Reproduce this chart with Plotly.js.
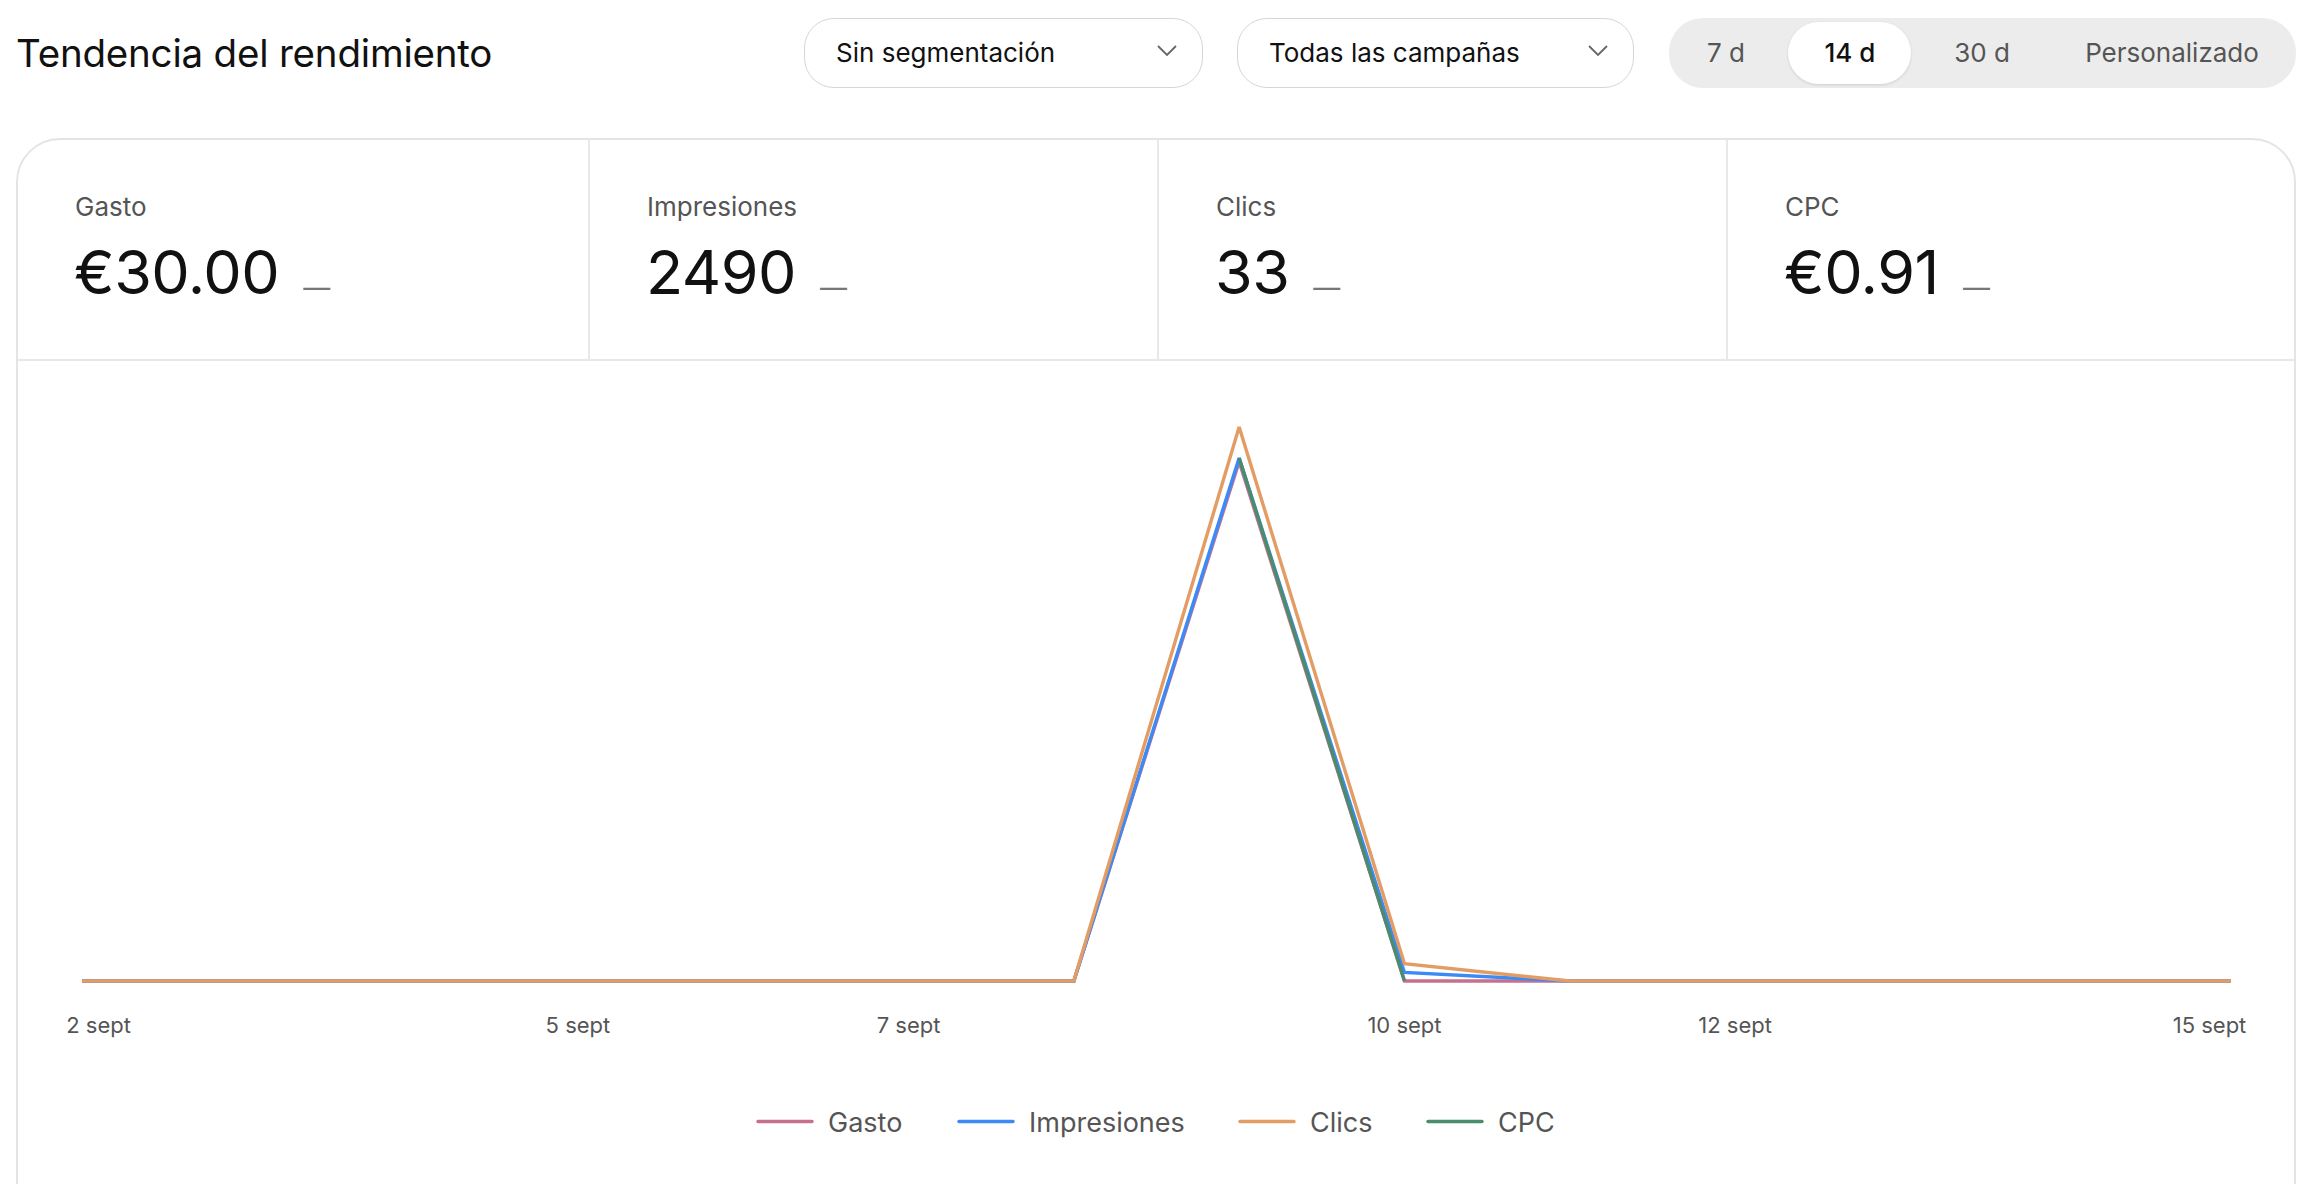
<!DOCTYPE html>
<html>
<head>
<meta charset="utf-8">
<script src="https://cdn.plot.ly/plotly-3.0.1.min.js"></script>
<style>
  html, body { margin:0; padding:0; background:#fff; }
  body { width:2300px; height:1184px; overflow:hidden; position:relative;
         font-family: Inter, "Noto Sans", sans-serif; color:#111; }
  .title { position:absolute; left:16px; top:30px; font-size:38.5px; line-height:46px; color:#111; letter-spacing:-0.2px; }
  .dd { position:absolute; top:18px; height:70px; box-sizing:border-box; border:1.5px solid #d6d6d6;
        border-radius:30px; background:#fff; font-size:26px; color:#111; }
  .dd span { position:absolute; left:31px; top:0; line-height:67px; }
  .dd svg { position:absolute; right:24px; top:25px; }
  .seg { position:absolute; left:1669px; top:18px; width:627px; height:70px; background:#ececec; border-radius:34px; }
  .seg .pill { position:absolute; left:119px; top:4px; width:123px; height:62px; background:#fff; border-radius:31px;
               box-shadow:0 1px 3px rgba(0,0,0,0.12); }
  .seg .opt { position:absolute; top:0; line-height:70px; font-size:26px; color:#555; transform:translateX(-50%); white-space:nowrap; }
  .seg .opt.sel { color:#111; font-weight:500; }
  .card { position:absolute; left:16px; top:138px; width:2280px; height:1110px; box-sizing:border-box;
          border:2px solid #e4e4e4; border-radius:44px; background:#fff; }
  .hline { position:absolute; left:17px; width:2278px; top:359px; height:2px; background:#e8e8e8; }
  .vline { position:absolute; top:139px; height:221px; width:2px; background:#e8e8e8; }
  .mlabel { position:absolute; font-size:26px; line-height:30px; color:#555; }
  .mval { position:absolute; font-size:61px; line-height:70px; color:#111; white-space:nowrap; letter-spacing:-0.5px; }
  .mval .dash { font-size:27px; color:#777; margin-left:24px; vertical-align:-3px; }
  #chart { position:absolute; left:0; top:362px; width:2300px; height:822px; }
</style>
</head>
<body>
<div class="title" id="title"></div>
<div id="dropdowns"></div>
<div class="seg" id="seg"><div class="pill"></div></div>
<div class="card"></div>
<div class="hline"></div>
<div id="metrics"></div>
<div id="chart"></div>
<script>
// ---------- data ----------
const chartTitle = 'Tendencia del rendimiento';
const dropdownLabels = ['Sin segmentación', 'Todas las campañas'];
const rangeOptions = ['7 d', '14 d', '30 d', 'Personalizado'];
const selectedRange = '14 d';

const metricLabels = ['Gasto', 'Impresiones', 'Clics', 'CPC'];
const metricValues = ['€30.00', '2490', '33', '€0.91'];

const days = ['2 sept','3 sept','4 sept','5 sept','6 sept','7 sept','8 sept',
              '9 sept','10 sept','11 sept','12 sept','13 sept','14 sept','15 sept'];
const tickDays = ['2 sept','5 sept','7 sept','10 sept','12 sept','15 sept'];

const gasto       = [0,0,0,0,0,0,0,30,0,0,0,0,0,0];
const impresiones = [0,0,0,0,0,0,0,2450,40,0,0,0,0,0];
const clics       = [0,0,0,0,0,0,0,32,1,0,0,0,0,0];
// CPC only exists on days with clicks
const cpc         = [null,null,null,null,null,null,null,0.94,0,null,null,null,null,null];

// ---------- header UI ----------
document.getElementById('title').textContent = chartTitle;
const ddPos = [[804, 399], [1237, 397]];
const ddWrap = document.getElementById('dropdowns');
dropdownLabels.forEach((t, i) => {
  const d = document.createElement('div');
  d.className = 'dd';
  d.style.left = ddPos[i][0] + 'px';
  d.style.width = ddPos[i][1] + 'px';
  d.innerHTML = '<span></span><svg width="22" height="14" viewBox="0 0 22 14"><path d="M2 2 L11 11 L20 2" fill="none" stroke="#666" stroke-width="1.8"/></svg>';
  d.querySelector('span').textContent = t;
  ddWrap.appendChild(d);
});
const segCenters = [57, 181, 313, 503];
const seg = document.getElementById('seg');
rangeOptions.forEach((t, i) => {
  const o = document.createElement('div');
  o.className = 'opt' + (t === selectedRange ? ' sel' : '');
  o.style.left = segCenters[i] + 'px';
  o.textContent = t;
  seg.appendChild(o);
});

// ---------- metric row ----------
const cellLeft = [16, 588, 1157, 1726];
const mWrap = document.getElementById('metrics');
metricLabels.forEach((lab, i) => {
  if (i > 0) {
    const v = document.createElement('div');
    v.className = 'vline'; v.style.left = cellLeft[i] + 'px';
    mWrap.appendChild(v);
  }
  const l = document.createElement('div');
  l.className = 'mlabel'; l.style.left = (cellLeft[i] + 59) + 'px'; l.style.top = '192px';
  l.textContent = lab;
  mWrap.appendChild(l);
  const val = document.createElement('div');
  val.className = 'mval'; val.style.left = (cellLeft[i] + 58) + 'px'; val.style.top = '237px';
  val.textContent = metricValues[i];
  const dash = document.createElement('span');
  dash.className = 'dash'; dash.textContent = '—';
  val.appendChild(dash);
  mWrap.appendChild(val);
});

// ---------- chart ----------
const xIdx = days.map((d, i) => i);
const tickIdx = tickDays.map(d => days.indexOf(d));
// edge labels are pulled inward, as in the original
const tickPos = tickIdx.map((v, k) => k === 0 ? v + 0.1 : (k === tickIdx.length - 1 ? v - 0.13 : v));

const plotL = 82, plotW = 2149, plotH = 585, zeroPad = 4 / plotH;
function yRange(peak, peakFrac) {
  const span = peak / (peakFrac - zeroPad);
  const lo = -zeroPad * span;
  return [lo, lo + span];
}
const fracHigh = (985 - 427) / plotH;
const fracLow  = (985 - 458) / plotH;
const rClics = yRange(Math.max(...clics), fracHigh);
const rImp   = yRange(Math.max(...impresiones), fracLow);
const rCpc   = yRange(Math.max(...cpc.filter(v => v !== null)), fracLow);

const colors = { gasto:'#c5708f', imp:'#3b8af6', clics:'#e39c64', cpc:'#4a8c6b' };
function tr(name, y, color, yaxis, legend) {
  return { type:'scatter', mode:'lines', name, x:xIdx, y, yaxis, legend,
           line:{ color, width:3.4 }, hoverinfo:'skip', connectgaps:false };
}
const data = [
  tr('Gasto', gasto, colors.gasto, 'y', 'legend'),
  tr('Impresiones', impresiones, colors.imp, 'y2', 'legend2'),
  tr('Clics', clics, colors.clics, 'y3', 'legend3'),
  tr('CPC', cpc, colors.cpc, 'y4', 'legend4')
];
const hiddenY = { visible:false, fixedrange:true, showgrid:false, zeroline:false };
const legendStarts = [763, 964, 1245, 1433];
function leg(px) {
  return { orientation:'h', x:(px - 10 - plotL) / plotW, xanchor:'left', y:-0.234, yanchor:'middle',
           font:{ size:27, color:'#555' }, itemwidth:65, bgcolor:'rgba(0,0,0,0)' };
}
const layout = {
  width:2300, height:822,
  margin:{ l:plotL, r:2300 - plotL - plotW, t:38, b:199 },
  paper_bgcolor:'rgba(0,0,0,0)', plot_bgcolor:'rgba(0,0,0,0)',
  font:{ family:'Inter, "Noto Sans", sans-serif', color:'#555' },
  showlegend:true,
  legend:leg(legendStarts[0]), legend2:leg(legendStarts[1]),
  legend3:leg(legendStarts[2]), legend4:leg(legendStarts[3]),
  xaxis:{ range:[0, days.length - 1], tickvals:tickPos, ticktext:tickDays,
          showgrid:false, zeroline:false, showline:false,
          ticks:'outside', ticklen:21, tickcolor:'rgba(0,0,0,0)',
          tickfont:{ size:22, color:'#555' }, fixedrange:true },
  yaxis:Object.assign({}, hiddenY, { range:rClics }),
  yaxis2:Object.assign({}, hiddenY, { range:rImp, overlaying:'y' }),
  yaxis3:Object.assign({}, hiddenY, { range:rClics, overlaying:'y' }),
  yaxis4:Object.assign({}, hiddenY, { range:rCpc, overlaying:'y' })
};
Plotly.newPlot('chart', data, layout, { displayModeBar:false, staticPlot:true }).then(gd => {
  // longer legend swatches, as in the original
  gd.querySelectorAll('.legendlines path').forEach(p => {
    p.setAttribute('d', 'M5,0h54');
    p.setAttribute('stroke-linecap', 'round');
    p.setAttribute('stroke-width', '4');
  });
});
</script>
</body>
</html>
